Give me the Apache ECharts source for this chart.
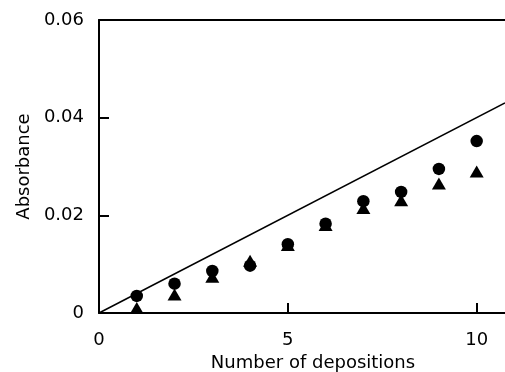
<!DOCTYPE html>
<html>
<head>
<meta charset="utf-8">
<script src="https://cdn.jsdelivr.net/npm/echarts@6/dist/echarts.min.js"></script>
<style>
	html, body { margin: 0; padding: 0; background: #fff; }
	#chart { width: 505px; height: 372px; }
</style>
</head>
<body>
<div id="chart"></div>
<script>
// Number of depositions (x) and measured absorbance for the two film series
const depositions = [ 1, 2, 3, 4, 5, 6, 7, 8, 9, 10 ];
const circleAbs = [ 0.0035, 0.006, 0.0086, 0.0097, 0.0141, 0.0183, 0.0229, 0.0248, 0.0295, 0.0352 ];
const triangleAbs = [ 0.001, 0.0038, 0.0074, 0.0107, 0.0139, 0.018, 0.0215, 0.0231, 0.0265, 0.029 ];
// Reference straight line through the origin
const lineX = [ 0, 10.75 ];
const lineY = [ 0, 0.043 ];
const yTicks = [ 0, 0.02, 0.04, 0.06 ];

const font = 'DejaVu Sans, sans-serif';

const pairs = ( xs, ys ) => xs.map( ( x, i ) => [ x, ys[ i ] ] );

const chart = echarts.init( document.getElementById( 'chart' ) );

chart.setOption( {
	animation: false,
	grid: { left: 99, top: 20, right: 0, bottom: 59, containLabel: false, outerBoundsMode: 'none' },
	xAxis: [ {
		type: 'value',
		min: 0,
		max: 10.75,
		interval: 5,
		name: 'Number of depositions',
		nameLocation: 'middle',
		nameGap: 39,
		nameTextStyle: { fontFamily: font, fontSize: 18, color: '#000', padding: [ 0, 0, 0, 22 ] },
		axisLine: { show: true, lineStyle: { color: '#000', width: 2 } },
		axisTick: { show: true, inside: true, length: 10, lineStyle: { color: '#000', width: 2 } },
		axisLabel: { fontFamily: font, fontSize: 18, color: '#000', margin: 18, showMaxLabel: false },
		splitLine: { show: false }
	}, {
		type: 'value',
		position: 'top',
		min: 0,
		max: 10.75,
		axisLine: { show: true, onZero: false, lineStyle: { color: '#000', width: 2 } },
		axisTick: { show: false },
		axisLabel: { show: false },
		splitLine: { show: false }
	} ],
	yAxis: {
		type: 'value',
		min: 0,
		max: 0.06,
		interval: 0.02,
		name: 'Absorbance',
		nameLocation: 'middle',
		nameGap: 66,
		nameTextStyle: { fontFamily: font, fontSize: 18, color: '#000' },
		axisLine: { show: true, lineStyle: { color: '#000', width: 2 } },
		axisTick: { show: true, inside: true, length: 10, lineStyle: { color: '#000', width: 2 } },
		axisLabel: {
			fontFamily: font,
			fontSize: 18,
			color: '#000',
			margin: 15,
			formatter: ( v ) => {
				const t = yTicks.find( ( k ) => Math.abs( k - v ) < 1e-9 );
				return t === 0 ? '0' : ( t !== undefined ? t.toFixed( 2 ) : '' );
			}
		},
		splitLine: { show: false }
	},
	series: [ {
		type: 'line',
		data: pairs( lineX, lineY ),
		symbol: 'none',
		lineStyle: { color: '#000', width: 1.5 },
		z: 1
	}, {
		type: 'scatter',
		data: pairs( depositions, triangleAbs ),
		symbol: 'triangle',
		symbolSize: [ 14, 12 ],
		itemStyle: { color: '#000', opacity: 1 },
		z: 2
	}, {
		type: 'scatter',
		data: pairs( depositions, circleAbs ),
		symbol: 'circle',
		symbolSize: 12.5,
		itemStyle: { color: '#000', opacity: 1 },
		z: 3
	} ]
} );
</script>
</body>
</html>
